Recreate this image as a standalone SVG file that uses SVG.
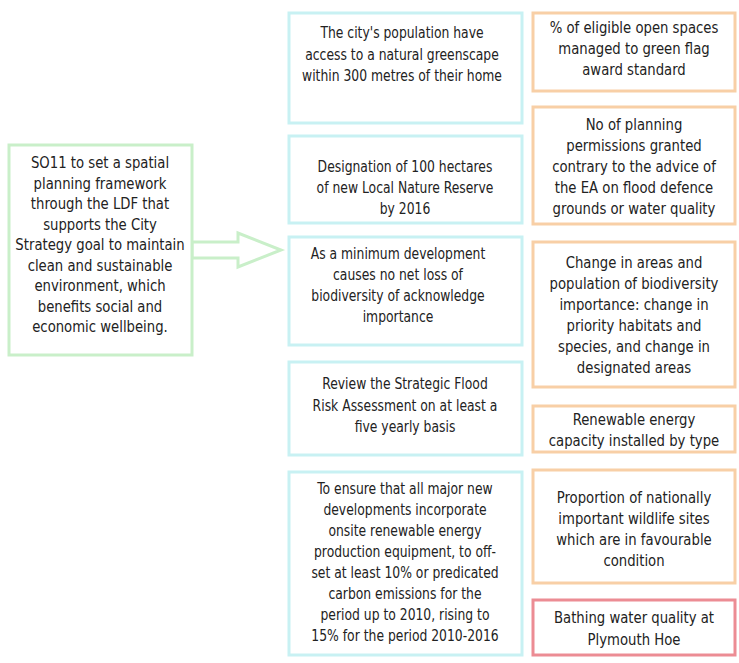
<svg xmlns="http://www.w3.org/2000/svg" width="739" height="663" viewBox="0 0 739 663">
<style>
.bx{fill:#ffffff;stroke-width:3}
.g{stroke:#c9efc9}
.c{stroke:#c8f1f3}
.o{stroke:#f8cfa6}
.r{stroke:#ec8c94}
text{font-family:"DejaVu Sans Condensed","DejaVu Sans","Liberation Sans",sans-serif;font-size:16px;fill:#222222;text-anchor:middle;dominant-baseline:central}
</style>
<rect width="739" height="663" fill="#ffffff"/>
<g id="connectors">
<polygon points="192,242 238,242 238,233 281,250 238,267 238,258 192,258" fill="#ffffff" stroke="#c9efc9" stroke-width="3" stroke-linejoin="miter"/>
</g>
<g id="so11">
<rect class="bx g" x="9" y="145" width="183" height="210"/>
<text transform="translate(100 0) scale(0.92 1)"><tspan x="0" y="163">SO11 to set a spatial</tspan><tspan x="0" y="183.5">planning framework</tspan><tspan x="0" y="204">through the LDF that</tspan><tspan x="0" y="224.5">supports the City</tspan><tspan x="0" y="245">Strategy goal to maintain</tspan><tspan x="0" y="265.5">clean and sustainable</tspan><tspan x="0" y="286">environment, which</tspan><tspan x="0" y="306.5">benefits social and</tspan><tspan x="0" y="327">economic wellbeing.</tspan></text>
</g>
<g id="t1">
<rect class="bx c" x="289" y="13" width="233" height="110"/>
<text transform="translate(402 0) scale(0.86 1)"><tspan x="0" y="33">The city's population have</tspan><tspan x="0" y="54.5">access to a natural greenscape</tspan><tspan x="0" y="76">within 300 metres of their home</tspan></text>
</g>
<g id="t2">
<rect class="bx c" x="289" y="136" width="233" height="87"/>
<text transform="translate(405 0) scale(0.86 1)"><tspan x="0" y="167">Designation of 100 hectares</tspan><tspan x="0" y="188">of new Local Nature Reserve</tspan><tspan x="0" y="209">by 2016</tspan></text>
</g>
<g id="t3">
<rect class="bx c" x="289" y="237" width="233" height="108"/>
<text transform="translate(398 0) scale(0.86 1)"><tspan x="0" y="254">As a minimum development</tspan><tspan x="0" y="275">causes no net loss of</tspan><tspan x="0" y="296">biodiversity of acknowledge</tspan><tspan x="0" y="317">importance</tspan></text>
</g>
<g id="t4">
<rect class="bx c" x="289" y="362" width="233" height="93"/>
<text transform="translate(405 0) scale(0.86 1)"><tspan x="0" y="384">Review the Strategic Flood</tspan><tspan x="0" y="405.5">Risk Assessment on at least a</tspan><tspan x="0" y="427">five yearly basis</tspan></text>
</g>
<g id="t5">
<rect class="bx c" x="289" y="472" width="233" height="183"/>
<text transform="translate(405 0) scale(0.86 1)"><tspan x="0" y="489">To ensure that all major new</tspan><tspan x="0" y="510">developments incorporate</tspan><tspan x="0" y="531">onsite renewable energy</tspan><tspan x="0" y="552">production equipment, to off-</tspan><tspan x="0" y="573">set at least 10% or predicated</tspan><tspan x="0" y="594">carbon emissions for the</tspan><tspan x="0" y="615">period up to 2010, rising to</tspan><tspan x="0" y="636">15% for the period 2010-2016</tspan></text>
</g>
<g id="i1">
<rect class="bx o" x="533" y="13" width="202" height="78"/>
<text transform="translate(634 0) scale(0.92 1)"><tspan x="0" y="28">% of eligible open spaces</tspan><tspan x="0" y="49">managed to green flag</tspan><tspan x="0" y="70">award standard</tspan></text>
</g>
<g id="i2">
<rect class="bx o" x="533" y="107" width="202" height="117"/>
<text transform="translate(634 0) scale(0.92 1)"><tspan x="0" y="125">No of planning</tspan><tspan x="0" y="146">permissions granted</tspan><tspan x="0" y="167">contrary to the advice of</tspan><tspan x="0" y="188">the EA on flood defence</tspan><tspan x="0" y="209">grounds or water quality</tspan></text>
</g>
<g id="i3">
<rect class="bx o" x="533" y="242" width="202" height="145"/>
<text transform="translate(634 0) scale(0.92 1)"><tspan x="0" y="263">Change in areas and</tspan><tspan x="0" y="284">population of biodiversity</tspan><tspan x="0" y="305">importance: change in</tspan><tspan x="0" y="326">priority habitats and</tspan><tspan x="0" y="347">species, and change in</tspan><tspan x="0" y="368">designated areas</tspan></text>
</g>
<g id="i4">
<rect class="bx o" x="533" y="406" width="202" height="46"/>
<text transform="translate(634 0) scale(0.92 1)"><tspan x="0" y="420">Renewable energy</tspan><tspan x="0" y="441">capacity installed by type</tspan></text>
</g>
<g id="i5">
<rect class="bx o" x="533" y="470" width="202" height="113"/>
<text transform="translate(634 0) scale(0.92 1)"><tspan x="0" y="498">Proportion of nationally</tspan><tspan x="0" y="519">important wildlife sites</tspan><tspan x="0" y="540">which are in favourable</tspan><tspan x="0" y="561">condition</tspan></text>
</g>
<g id="i6">
<rect class="bx r" x="533" y="600" width="202" height="55"/>
<text transform="translate(634 0) scale(0.92 1)"><tspan x="0" y="618">Bathing water quality at</tspan><tspan x="0" y="640">Plymouth Hoe</tspan></text>
</g>
</svg>
